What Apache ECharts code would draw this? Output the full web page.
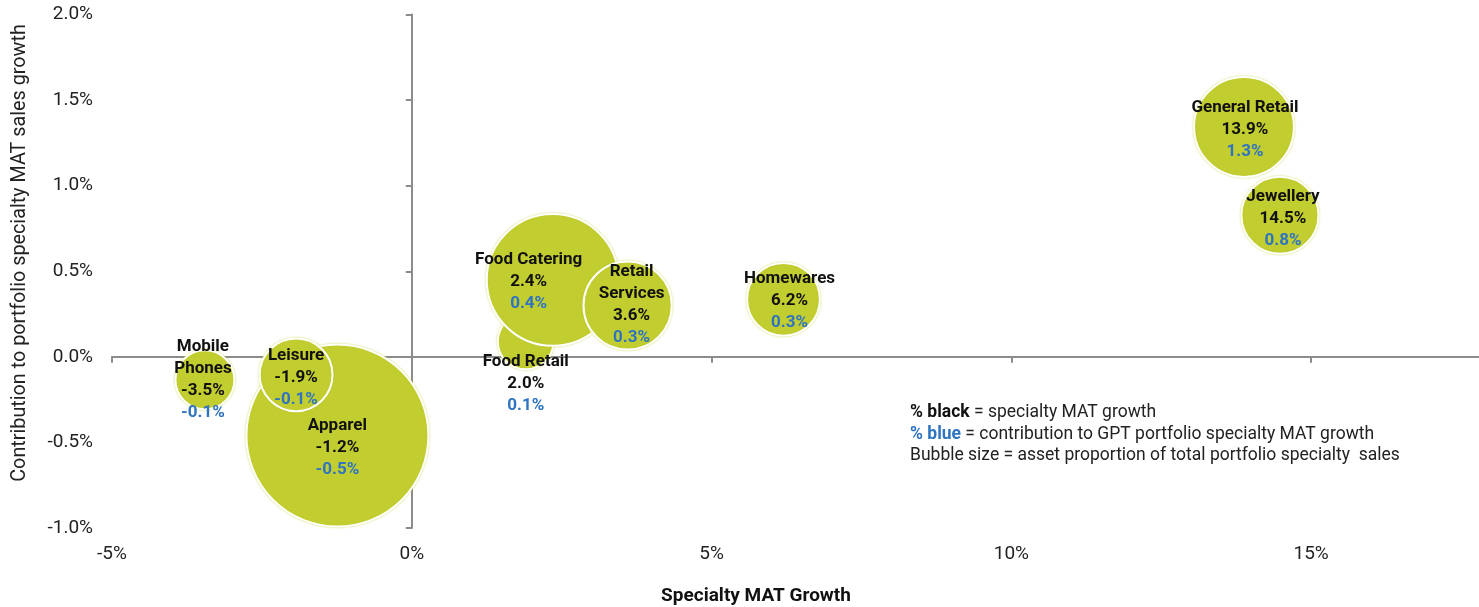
<!DOCTYPE html>
<html><head><meta charset="utf-8">
<script src="https://cdn.jsdelivr.net/npm/echarts@6/dist/echarts.min.js"></script>
<style>html,body{margin:0;padding:0;background:#fff}#c{width:1479px;height:607px}</style>
</head><body><div id="c"></div>
<script>
// ---- data ----
const names = ['Food Retail', 'Food Catering', 'Retail\nServices', 'Apparel', 'Leisure', 'Mobile\nPhones', 'Homewares', 'General Retail', 'Jewellery'];
const growth = [1.9, 2.35, 3.6, -1.24, -1.93, -3.45, 6.2, 13.88, 14.48];
const contribution = [0.09, 0.45, 0.30, -0.46, -0.105, -0.134, 0.336, 1.343, 0.827];
const proportion = [3.4, 19.0, 8.5, 36.2, 5.8, 3.8, 5.8, 10.9, 6.5];
const growthLabels = ['2.0%', '2.4%', '3.6%', '-1.2%', '-1.9%', '-3.5%', '6.2%', '13.9%', '14.5%'];
const contribLabels = ['0.1%', '0.4%', '0.3%', '-0.5%', '-0.1%', '-0.1%', '0.3%', '1.3%', '0.8%'];
const xTicks = [-5, 0, 5, 10, 15];
const yTicks = [-1, -0.5, 0, 0.5, 1, 1.5, 2];

// ---- styling ----
const labelOffsets = [[0, 42], [-24, 2], [4, -1], [0, 12], [0, 3], [-2, 0], [6, 1], [1, 3], [3, 3]];
const GREEN = '#c2cd30', BLUE = '#2f74c0', AXIS = '#8c8c8c', FONT = 'Roboto';

const chart = echarts.init(document.getElementById('c'), null, {renderer: 'canvas'});
const seriesData = names.map((n, i) => ({
  name: n,
  value: [growth[i], contribution[i], proportion[i]],
  label: {offset: labelOffsets[i]}
}));

chart.setOption({
  animation: false,
  grid: {left: 112, right: 0, top: 14.5, bottom: 79, containLabel: false, outerBoundsMode: 'none'},
  xAxis: [{
    type: 'value', min: -5, max: 17.8, position: 'bottom',
    axisLine: {show: true, onZero: true, lineStyle: {color: AXIS, width: 2}},
    axisTick: {show: true, customValues: xTicks, length: 6, lineStyle: {color: AXIS, width: 2}},
    axisLabel: {show: false}, splitLine: {show: false}
  }, {
    type: 'value', min: -5, max: 17.8, position: 'bottom',
    axisLine: {show: false, onZero: false}, axisTick: {show: false}, splitLine: {show: false},
    axisLabel: {customValues: xTicks, formatter: v => v + '%', margin: 17, fontSize: 19, color: '#222', fontFamily: FONT}
  }],
  yAxis: [{
    type: 'value', min: -1, max: 2, interval: 0.5, position: 'left',
    axisLine: {show: true, onZero: true, lineStyle: {color: AXIS, width: 2}},
    axisTick: {show: true, length: 6, lineStyle: {color: AXIS, width: 2}},
    axisLabel: {show: false}, splitLine: {show: false}
  }, {
    type: 'value', min: -1, max: 2, interval: 0.5, position: 'left',
    axisLine: {show: false, onZero: false}, axisTick: {show: false}, splitLine: {show: false},
    axisLabel: {formatter: v => v.toFixed(1) + '%', margin: 19, fontSize: 19, color: '#222', fontFamily: FONT,
      padding: [3, 0, 0, 0]}
  }],
  series: [{
    type: 'scatter', xAxisIndex: 0, yAxisIndex: 0,
    data: seriesData,
    symbolSize: v => Math.sqrt(v[2]) * 30.25,
    itemStyle: {color: GREEN, opacity: 1, borderColor: '#fff', borderWidth: 2,
      shadowColor: 'rgba(194,205,48,0.7)', shadowBlur: 2},
    emphasis: {disabled: true},
    label: {
      show: true, position: 'inside', lineHeight: 22,
      formatter: p => '{n|' + names[p.dataIndex] + '}\n{g|' + growthLabels[p.dataIndex] + '}\n{c|' + contribLabels[p.dataIndex] + '}',
      rich: {
        n: {fontFamily: FONT, fontWeight: 'bold', fontSize: 17, color: '#111', lineHeight: 22},
        g: {fontFamily: FONT, fontWeight: 'bold', fontSize: 17, color: '#111', lineHeight: 22},
        c: {fontFamily: FONT, fontWeight: 'bold', fontSize: 17, color: BLUE, lineHeight: 22}
      }
    }
  }],
  graphic: [{
    type: 'text', x: 20, y: 253, rotation: Math.PI / 2,
    style: {text: 'Contribution to portfolio specialty MAT sales growth', align: 'center', verticalAlign: 'middle',
      font: '19.8px ' + FONT, fill: '#222'}
  }, {
    type: 'text', x: 756, y: 596,
    style: {text: 'Specialty MAT Growth', align: 'center', verticalAlign: 'middle',
      font: 'bold 19px ' + FONT, fill: '#111'}
  }, {
    type: 'text', x: 910, y: 402,
    style: {
      text: '{b|% black} = specialty MAT growth\n{bl|% blue} = contribution to GPT portfolio specialty MAT growth\nBubble size = asset proportion of total portfolio specialty  sales',
      font: '17.5px ' + FONT, fill: '#222', lineHeight: 21.5, align: 'left', verticalAlign: 'top',
      rich: {
        b: {fontFamily: FONT, fontWeight: 'bold', fontSize: 17.5, fill: '#111', lineHeight: 21.5},
        bl: {fontFamily: FONT, fontWeight: 'bold', fontSize: 17.5, fill: BLUE, lineHeight: 21.5}
      }
    }
  }]
});
</script></body></html>
